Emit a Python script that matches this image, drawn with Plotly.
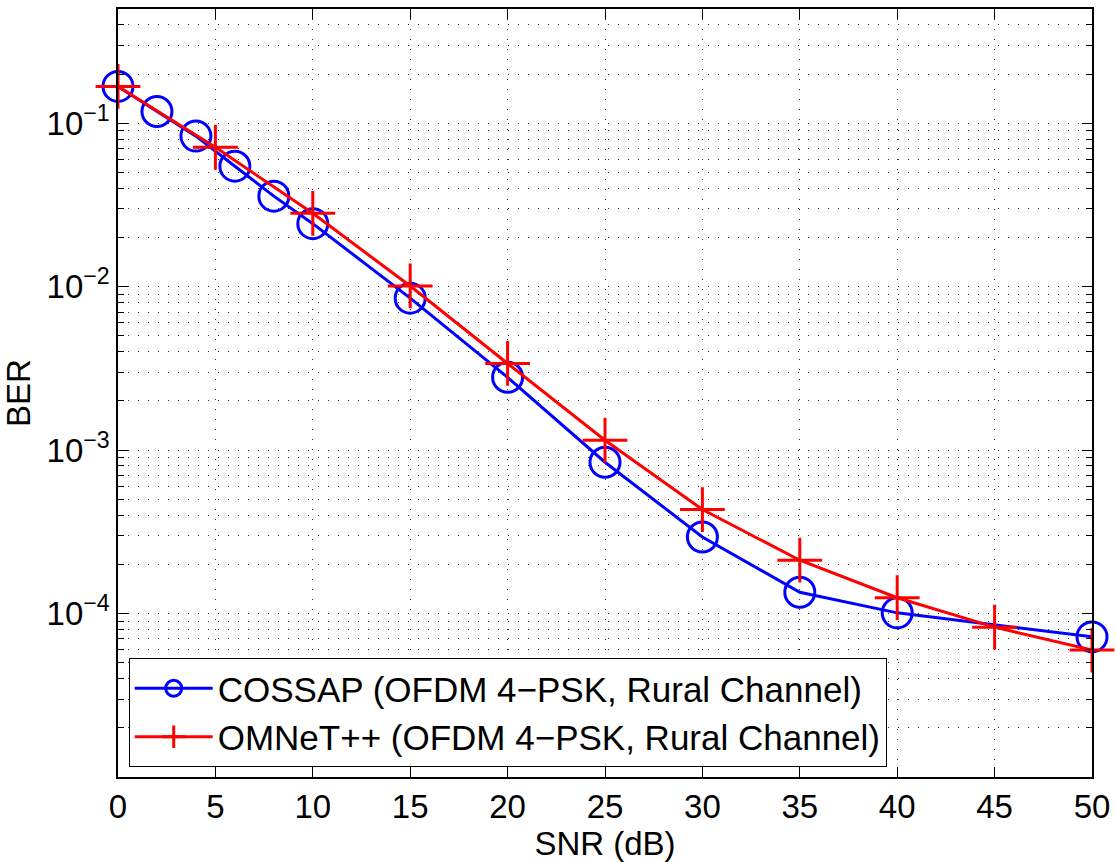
import plotly.graph_objects as go

snr_cossap = [0, 2, 4, 6, 8, 10, 15, 20, 25, 30, 35, 40, 50]
ber_cossap = [0.168, 0.118, 0.0834, 0.0546, 0.0358, 0.0243, 0.00851, 0.00279,
              8.43e-4, 2.94e-4, 1.35e-4, 1.01e-4, 7.2e-5]
snr_omnet = [0, 5, 10, 15, 20, 25, 30, 35, 40, 45, 50]
ber_omnet = [0.168, 0.0713, 0.0281, 0.0101, 0.00339, 0.00115, 4.33e-4,
             2.12e-4, 1.25e-4, 8.26e-5, 5.98e-5]

name_cossap = "COSSAP (OFDM 4\u2212PSK, Rural Channel)"
name_omnet = "OMNeT++ (OFDM 4\u2212PSK, Rural Channel)"

x_ticks = [0, 5, 10, 15, 20, 25, 30, 35, 40, 45, 50]
y_ticks = [1e-4, 1e-3, 1e-2, 1e-1]
y_ticktext = ["10<sup>\u22124</sup>", "10<sup>\u22123</sup>",
              "10<sup>\u22122</sup>", "10<sup>\u22121</sup>"]

FONT = "Liberation Sans, Arial, Helvetica, sans-serif"
GRID_DASH = "1px,9px"

fig = go.Figure()
fig.add_trace(go.Scatter(
    x=snr_cossap, y=ber_cossap, name=name_cossap, mode="lines+markers",
    cliponaxis=False,
    line=dict(color="#0000ff", width=3),
    marker=dict(symbol="circle-open", size=30, color="#0000ff",
                line=dict(width=3, color="#0000ff")),
))
fig.add_trace(go.Scatter(
    x=snr_omnet, y=ber_omnet, name=name_omnet, mode="lines+markers",
    cliponaxis=False,
    line=dict(color="#ff0000", width=3),
    marker=dict(symbol="cross-thin-open", size=32, color="#ff0000",
                line=dict(width=3, color="#ff0000")),
))

minor_y = [m * 10.0 ** e for e in range(-5, 0) for m in range(2, 10)]

fig.update_xaxes(
    range=[0, 50], tickvals=x_ticks, ticks="inside", ticklen=10,
    tickcolor="black", tickwidth=1, mirror="ticks", showline=True,
    linecolor="black", linewidth=1.5, showgrid=True, gridcolor="#333333",
    griddash=GRID_DASH, gridwidth=1, zeroline=False,
    tickfont=dict(size=33, color="black", family=FONT),
    title=dict(text="SNR (dB)", font=dict(size=33, color="black", family=FONT),
               standoff=0),
)
fig.update_yaxes(
    type="log", range=[-5, -0.30103], tickvals=y_ticks, ticktext=y_ticktext,
    ticks="inside", ticklen=10, tickcolor="black", tickwidth=1,
    mirror="ticks", showline=True, linecolor="black", linewidth=1.5,
    showgrid=True, gridcolor="#333333", griddash=GRID_DASH, gridwidth=1,
    zeroline=False,
    minor=dict(tickvals=minor_y, ticks="inside", ticklen=6, tickcolor="black",
               showgrid=True, gridcolor="#333333", griddash=GRID_DASH,
               gridwidth=1),
    tickfont=dict(size=33, color="black", family=FONT),
    title=dict(text="BER", font=dict(size=33, color="black", family=FONT),
               standoff=10),
)

fig.update_layout(
    width=1117, height=862,
    margin=dict(l=118, r=23, t=7, b=85),
    paper_bgcolor="white", plot_bgcolor="white",
    font=dict(family=FONT, color="black"),
    showlegend=True,
    legend=dict(
        x=0.011, y=0.013, xanchor="left", yanchor="bottom",
        bgcolor="white", bordercolor="black", borderwidth=1,
        font=dict(size=35, color="black", family=FONT),
        itemwidth=78, tracegroupgap=0,
    ),
)

fig.write_html("out.html",
               config={"displayModeBar": False},
               post_script="document.body.style.margin='0px';"
                           "document.body.style.padding='0px';")
